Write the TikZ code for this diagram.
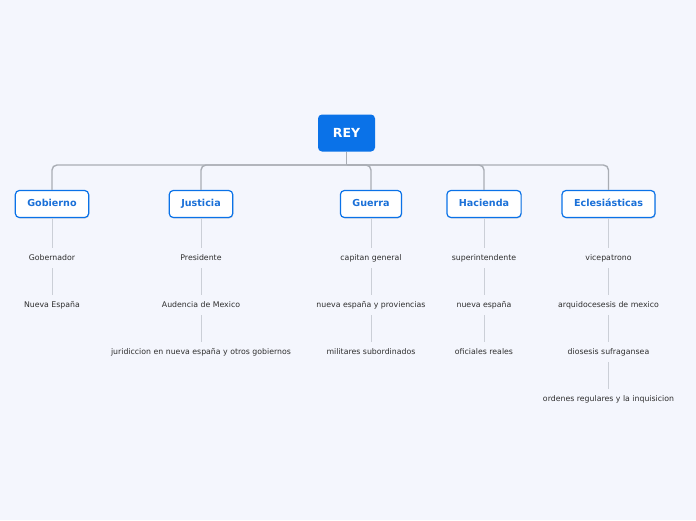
\documentclass[tikz,border=0pt]{standalone}
\usepackage{fontspec}
\setmainfont{DejaVu Sans}
\usepackage{xcolor}
\usetikzlibrary{shadows}

\definecolor{fondo}{HTML}{F4F6FD}
\definecolor{azul}{HTML}{0A72E8}
\definecolor{azultexto}{HTML}{1A70D8}
\definecolor{barra}{HTML}{A9ADB4}
\definecolor{linea}{HTML}{CBCFD7}
\definecolor{texto}{HTML}{2E2E2E}

\begin{document}
\begin{tikzpicture}[x=1pt,y=-1pt]
			\tikzstyle{root} = [fill=azul, text=white, rounded corners=4pt, minimum width=57pt, minimum height=37pt, font=\fontsize{12.5}{14}\selectfont\bfseries]
			\tikzstyle{rama} = [draw=azul, line width=1.2pt, fill=white, rounded corners=4pt, minimum height=27pt, inner xsep=12pt, text height=7pt, text depth=1.5pt, text=azultexto, font=\fontsize{9.6}{11}\selectfont\bfseries, drop shadow={opacity=0.25, shadow xshift=0.6pt, shadow yshift=-1pt}]
			\tikzstyle{hoja} = [minimum height=20pt, inner sep=0pt, text height=5.8pt, text depth=1.2pt, text=texto, font=\fontsize{7.8}{9}\selectfont]
			\tikzset{bar/.style = {draw=barra, line width=1.4pt, rounded corners=5pt}}
			\tikzset{edge/.style = {draw=linea, line width=1pt}}

			\fill[fondo] (0,0) rectangle (696,520);
			\useasboundingbox (0,0) rectangle (696,520);

			\node[root](rey) at (346.5,133) {REY};
			\coordinate (hub) at (346.5,165);

			\node[rama](gobierno) at (52,204) {Gobierno};
			\node[rama](justicia) at (201,204) {Justicia};
			\node[rama](guerra) at (371,204) {Guerra};
			\node[rama](hacienda) at (484,204) {Hacienda};
			\node[rama](eclesiasticas) at (608.5,204) {Eclesiásticas};

			\draw[bar] (rey.south) -- (hub);
			\draw[bar] (hub) -| (gobierno.north);
			\draw[bar] (hub) -| (justicia.north);
			\draw[bar] (hub) -| (guerra.north);
			\draw[bar] (hub) -| (hacienda.north);
			\draw[bar] (hub) -| (eclesiasticas.north);

			% Gobierno
			\node[hoja](gob1) at (52,258) {Gobernador};
			\node[hoja](gob2) at (52,305) {Nueva España};
			\draw[edge](gobierno) to (gob1);
			\draw[edge](gob1) to (gob2);

			% Justicia
			\node[hoja](jus1) at (201,258) {Presidente};
			\node[hoja](jus2) at (201,305) {Audencia de Mexico};
			\node[hoja](jus3) at (201,352) {juridiccion en nueva españa y otros gobiernos};
			\draw[edge](justicia) to (jus1);
			\draw[edge](jus1) to (jus2);
			\draw[edge](jus2) to (jus3);

			% Guerra
			\node[hoja](gue1) at (371,258) {capitan general};
			\node[hoja](gue2) at (371,305) {nueva españa y proviencias};
			\node[hoja](gue3) at (371,352) {militares subordinados};
			\draw[edge](guerra) to (gue1);
			\draw[edge](gue1) to (gue2);
			\draw[edge](gue2) to (gue3);

			% Hacienda
			\node[hoja](hac1) at (484,258) {superintendente};
			\node[hoja](hac2) at (484,305) {nueva españa};
			\node[hoja](hac3) at (484,352) {oficiales reales};
			\draw[edge](hacienda) to (hac1);
			\draw[edge](hac1) to (hac2);
			\draw[edge](hac2) to (hac3);

			% Eclesiasticas
			\node[hoja](ecl1) at (608.5,258) {vicepatrono};
			\node[hoja](ecl2) at (608.5,305) {arquidocesesis de mexico};
			\node[hoja](ecl3) at (608.5,352) {diosesis sufragansea};
			\node[hoja](ecl4) at (608.5,399) {ordenes regulares y la inquisicion};
			\draw[edge](eclesiasticas) to (ecl1);
			\draw[edge](ecl1) to (ecl2);
			\draw[edge](ecl2) to (ecl3);
			\draw[edge](ecl3) to (ecl4);

			\end{tikzpicture}
\end{document}
